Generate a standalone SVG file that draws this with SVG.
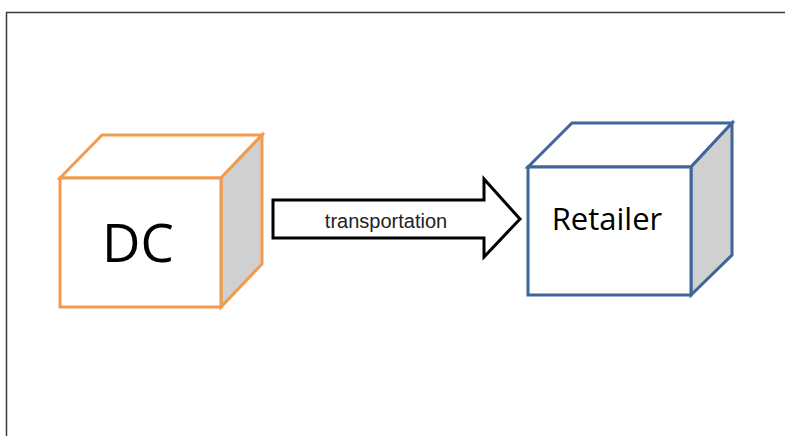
<svg xmlns="http://www.w3.org/2000/svg" width="785" height="436" viewBox="0 0 785 436">
  <style>
    .frame { fill: #ffffff; stroke: #3a3a3a; stroke-width: 1.5; }
    .face { fill: #ffffff; stroke-width: 3; stroke-linejoin: miter; }
    .side { fill: #d0d0d0; stroke-width: 3; stroke-linejoin: miter; }
    .dc { stroke: #f29b4f; }
    .ret { stroke: #3e6699; }
    .arrow { fill: #ffffff; stroke: #000000; stroke-width: 3; stroke-linejoin: miter; }
    .lbl { font-family: "Open Sans", "Noto Sans", sans-serif; fill: #000000; text-anchor: middle; }
  </style>
  <rect x="0" y="0" width="785" height="436" fill="#ffffff"/>
  <rect class="frame" x="6.5" y="12.5" width="790" height="440"/>

  <g id="connectors">
    <polygon class="arrow" points="273,200 484,200 484,179 520,219 484,257 484,238 273,238"/>
    <text x="386" y="228" font-family="Liberation Sans, Arial, sans-serif" font-size="20" fill="#222" text-anchor="middle">transportation</text>
  </g>

  <g id="dc">
    <polygon class="face dc" points="60,178 102,135 262,135 221,178"/>
    <polygon class="side dc" points="221,178 262,135 262,264 221,307"/>
    <rect class="face dc" x="60" y="178" width="161" height="129"/>
    <text class="lbl" x="138" y="262" font-size="53">DC</text>
  </g>

  <g id="retailer">
    <polygon class="face ret" points="528,167 572,123 732,123 691,167"/>
    <polygon class="side ret" points="691,167 732,123 732,255 691,295"/>
    <rect class="face ret" x="528" y="167" width="163" height="128"/>
    <text class="lbl" x="607" y="230" font-size="31">Retailer</text>
  </g>
</svg>
